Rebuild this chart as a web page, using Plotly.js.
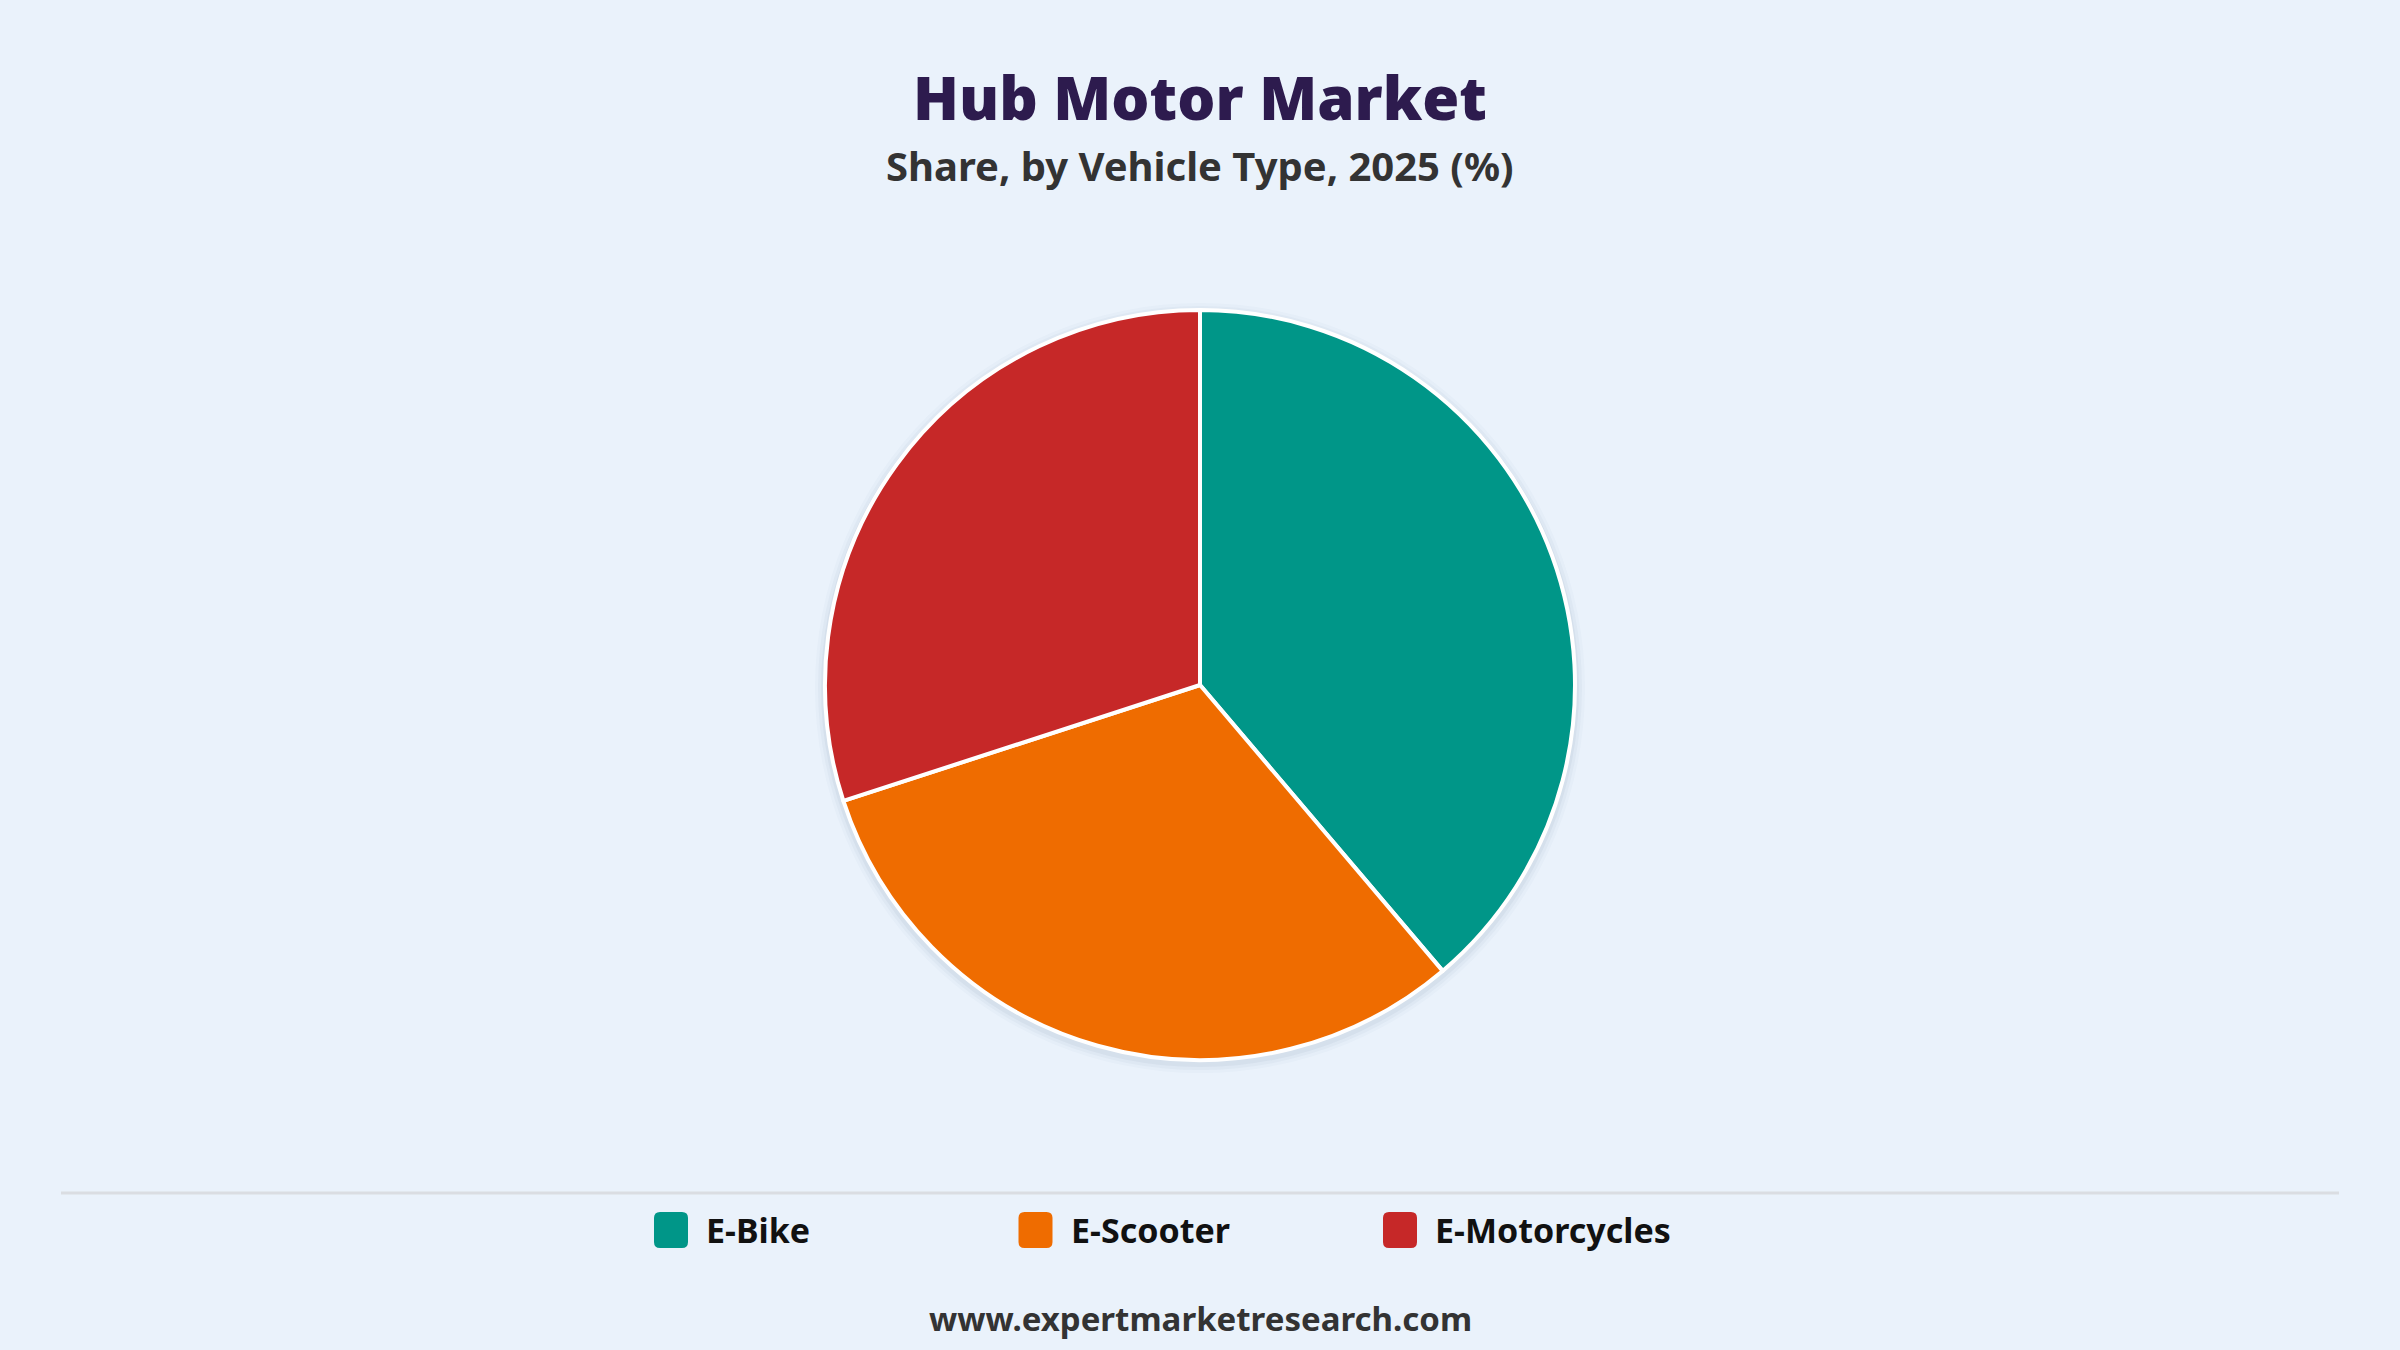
<!DOCTYPE html>
<html>
<head>
<meta charset="utf-8">
<script src="https://cdn.plot.ly/plotly-3.0.1.min.js"></script>
<style>
  html, body { margin: 0; padding: 0; background: #EAF2FB; }
  #chart { width: 2400px; height: 1350px; }
</style>
</head>
<body>
<div id="chart"></div>
<script>
// ---- data ----
const categories = ["E-Bike", "E-Scooter", "E-Motorcycles"];
const shareValues = [38.8, 31.2, 30.0];
const sliceColors = ["#009688", "#EF6C00", "#C62828"];
const titleText = "Hub Motor Market";
const subtitleText = "Share, by Vehicle Type, 2025 (%)";
const sourceText = "www.expertmarketresearch.com";

// ---- layout helpers (pixels -> paper) ----
const W = 2400, H = 1350;
const px = x => x / W;
const py = y => 1 - y / H;

const pieCX = 1200, pieCY = 685, pieR = 375;
const FONT = "'Noto Sans', 'Open Sans', 'DejaVu Sans', sans-serif";

const trace = {
  type: "pie",
  labels: categories,
  values: shareValues,
  sort: false,
  direction: "clockwise",
  rotation: 0,
  textinfo: "none",
  hoverinfo: "label+percent",
  marker: { colors: sliceColors, line: { color: "#FFFFFF", width: 4 } },
  domain: {
    x: [px(pieCX - pieR), px(pieCX + pieR)],
    y: [py(pieCY + pieR), py(pieCY - pieR)]
  },
  showlegend: false
};

const shapes = [];
// soft shadow behind the pie
[[10, 0.025], [7, 0.035], [4, 0.05]].forEach(([g, a]) => {
  shapes.push({
    type: "circle", xref: "paper", yref: "paper", layer: "below",
    x0: px(pieCX - pieR - g), x1: px(pieCX + pieR + g),
    y0: py(pieCY + pieR + g + 3), y1: py(pieCY - pieR - g + 3),
    fillcolor: `rgba(60,80,110,${a})`, line: { width: 0 }
  });
});
// separator line
shapes.push({
  type: "line", xref: "paper", yref: "paper",
  x0: px(61), x1: px(2339), y0: py(1193), y1: py(1193),
  line: { color: "#DADDE2", width: 3 }
});

// custom legend: rounded swatches + labels
const annotations = [];
const legStartX = 654, legStep = 364.5, legCY = 1230, sw = 34, sh = 36, rr = 6;
categories.forEach((name, i) => {
  const x0 = legStartX + i * legStep, x1 = x0 + sw;
  const y0 = legCY - sh / 2, y1 = legCY + sh / 2;
  const p = (x, y) => `${px(x)},${py(y)}`;
  const path = `M${p(x0 + rr, y0)} L${p(x1 - rr, y0)} Q${p(x1, y0)} ${p(x1, y0 + rr)} ` +
    `L${p(x1, y1 - rr)} Q${p(x1, y1)} ${p(x1 - rr, y1)} L${p(x0 + rr, y1)} ` +
    `Q${p(x0, y1)} ${p(x0, y1 - rr)} L${p(x0, y0 + rr)} Q${p(x0, y0)} ${p(x0 + rr, y0)} Z`;
  shapes.push({
    type: "path", xref: "paper", yref: "paper", path: path,
    fillcolor: sliceColors[i], line: { width: 0 }
  });
  annotations.push({
    xref: "paper", yref: "paper", x: px(x1 + 16), y: py(legCY),
    xanchor: "left", yanchor: "middle", showarrow: false,
    text: name, font: { family: FONT, size: 34, color: "#111111", weight: 700 }
  });
});

// titles and source
annotations.push({
  xref: "paper", yref: "paper", x: 0.5, y: py(97),
  xanchor: "center", yanchor: "middle", showarrow: false,
  text: titleText, font: { family: FONT, size: 60, color: "#2D1B4E", weight: 900 }
});
annotations.push({
  xref: "paper", yref: "paper", x: 0.5, y: py(165),
  xanchor: "center", yanchor: "middle", showarrow: false,
  text: subtitleText, font: { family: FONT, size: 40, color: "#333333", weight: 700 }
});
annotations.push({
  xref: "paper", yref: "paper", x: 0.5, y: py(1318),
  xanchor: "center", yanchor: "middle", showarrow: false,
  text: sourceText, font: { family: FONT, size: 33, color: "#333333", weight: 700 }
});

const layout = {
  width: W, height: H,
  margin: { l: 0, r: 0, t: 0, b: 0 },
  paper_bgcolor: "#EAF2FB",
  plot_bgcolor: "#EAF2FB",
  showlegend: false,
  shapes: shapes,
  annotations: annotations
};

Plotly.newPlot("chart", [trace], layout, { displayModeBar: false, staticPlot: true });
</script>
</body>
</html>
